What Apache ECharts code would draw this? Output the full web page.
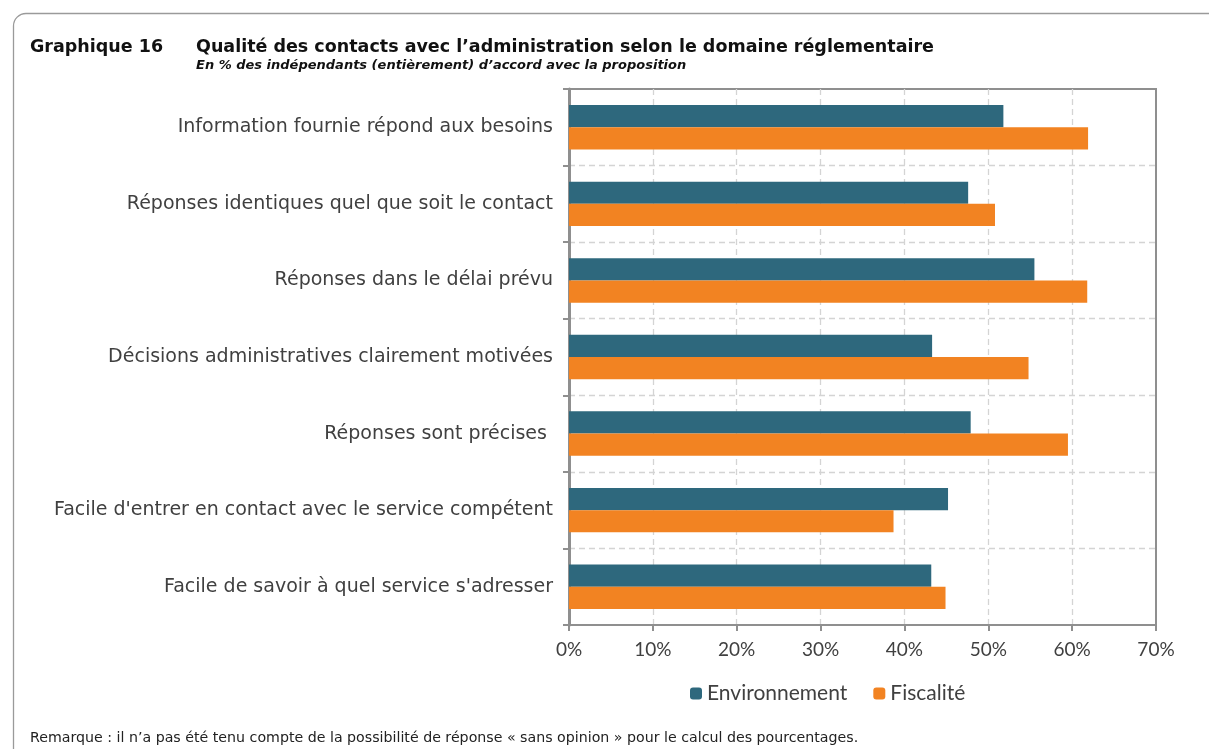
<!DOCTYPE html>
<html>
<head>
<meta charset="utf-8">
<script src="https://cdn.jsdelivr.net/npm/echarts@6/dist/echarts.min.js"></script>
<style>
  html, body { margin: 0; padding: 0; background: #fff; overflow: hidden; }
  #chart { width: 1209px; height: 749px; }
</style>
</head>
<body>
<div id="chart"></div>
<script>
// categories, top to bottom
const categories = [
  'Information fournie répond aux besoins',
  'Réponses identiques quel que soit le contact',
  'Réponses dans le délai prévu',
  'Décisions administratives clairement motivées',
  'Réponses sont précises ',
  "Facile d'entrer en contact avec le service compétent",
  "Facile de savoir à quel service s'adresser"
];
const environnement = [51.8, 47.6, 55.5, 43.3, 47.9, 45.2, 43.2];
const fiscalite = [61.9, 50.8, 61.8, 54.8, 59.5, 38.7, 44.9];
const xTicks = [0, 10, 20, 30, 40, 50, 60, 70];

const txt = '#404040';
const gridGrey = '#8f8f8f';
const dashGrey = '#d4d4d4';

const chart = echarts.init(document.getElementById('chart'));
const option = {
  animation: false,
  backgroundColor: '#fff',
  title: [
    {
      text: 'Graphique 16',
      left: 25, top: 33,
      textStyle: { fontFamily: 'DejaVu Sans', fontSize: 17.5, fontWeight: 'bold', color: '#111' }
    },
    {
      text: 'Qualité des contacts avec l\u2019administration selon le domaine réglementaire',
      left: 191, top: 33,
      textStyle: { fontFamily: 'DejaVu Sans', fontSize: 17.5, fontWeight: 'bold', color: '#111' }
    },
    {
      text: 'En % des indépendants (entièrement) d\u2019accord avec la proposition',
      left: 191, top: 54,
      textStyle: { fontFamily: 'DejaVu Sans', fontSize: 13, fontWeight: 'bold', fontStyle: 'italic', color: '#111' }
    },
    {
      text: 'Remarque : il n\u2019a pas été tenu compte de la possibilité de réponse « sans opinion » pour le calcul des pourcentages.',
      left: 25, top: 726,
      textStyle: { fontFamily: 'DejaVu Sans', fontSize: 14.2, fontWeight: 'normal', color: '#222' }
    }
  ],
  graphic: [
    { type: 'line', silent: true, shape: { x1: 13.5, y1: 760, x2: 13.5, y2: 26 },
      style: { stroke: '#9a9a9a', lineWidth: 1.3 } },
    { type: 'arc', silent: true,
      shape: { cx: 26, cy: 26, r: 12.5, startAngle: Math.PI, endAngle: Math.PI * 1.5 },
      style: { stroke: '#9a9a9a', lineWidth: 1.3, fill: null } },
    { type: 'line', silent: true, shape: { x1: 26, y1: 13.5, x2: 1240, y2: 13.5 },
      style: { stroke: '#9a9a9a', lineWidth: 1.3 } }
  ],
  legend: {
    left: 685, top: 678,
    itemWidth: 12, itemHeight: 12, itemGap: 26,
    textStyle: { fontFamily: 'Lato', fontSize: 21, color: txt },
    data: ['Environnement', 'Fiscalité']
  },
  grid: {
    left: 569, right: 53, top: 89, bottom: 124,
    show: true, borderColor: gridGrey, borderWidth: 2
  },
  xAxis: {
    type: 'value',
    min: 0, max: 70, interval: 10,
    axisLine: { show: true, lineStyle: { color: gridGrey, width: 2 } },
    axisTick: { show: true, length: 6, lineStyle: { color: gridGrey, width: 2 } },
    axisLabel: {
      margin: 15, fontFamily: 'Lato', fontSize: 19, color: txt,
      formatter: v => xTicks.includes(v) ? v + '%' : ''
    },
    splitLine: { show: true, showMinLine: false, showMaxLine: false,
      lineStyle: { color: dashGrey, type: [6, 4], width: 1.3 } }
  },
  yAxis: {
    type: 'category',
    inverse: true,
    data: categories,
    axisLine: { show: true, lineStyle: { color: gridGrey, width: 3 } },
    axisTick: { show: true, length: 6, lineStyle: { color: gridGrey, width: 2 } },
    axisLabel: { margin: 16, fontFamily: 'DejaVu Sans', fontSize: 19, color: txt },
    splitLine: { show: true, showMinLine: false, showMaxLine: false,
      lineStyle: { color: dashGrey, type: [6, 4], width: 1.3 } }
  },
  series: [
    {
      name: 'Environnement', type: 'bar', data: environnement,
      barGap: '0%', barCategoryGap: '42%',
      itemStyle: { color: '#2e687d' }
    },
    {
      name: 'Fiscalité', type: 'bar', data: fiscalite,
      barGap: '0%', barCategoryGap: '42%',
      itemStyle: { color: '#f28322' }
    }
  ]
};
chart.setOption(option);
</script>
</body>
</html>
